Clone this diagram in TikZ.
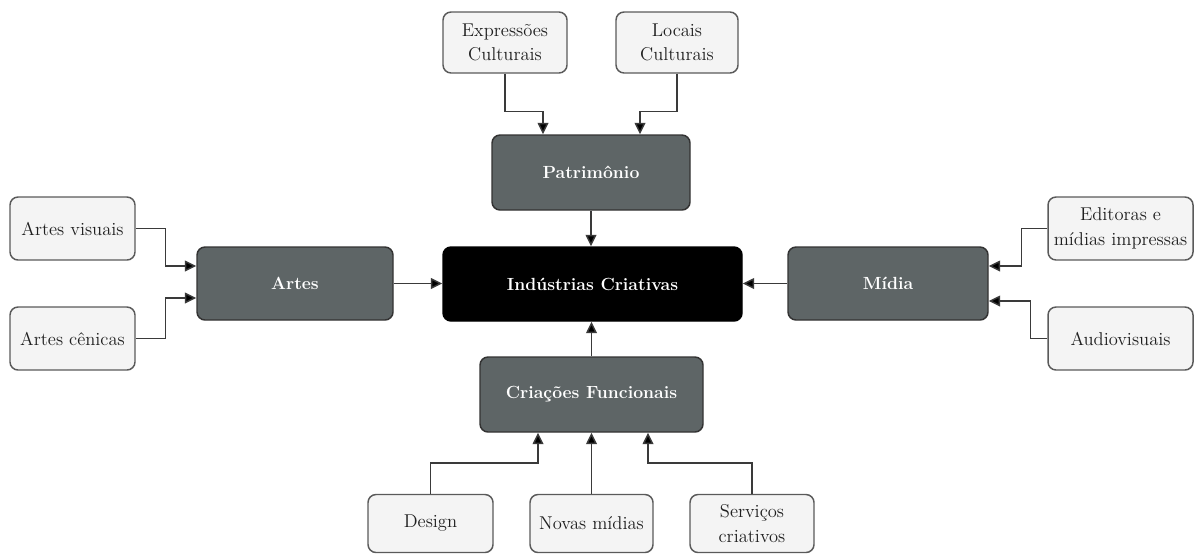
\documentclass[tikz,border=0pt]{standalone}
\usepackage{fontspec}
\usetikzlibrary{arrows.meta,calc}
\definecolor{leafbg}{HTML}{F4F4F4}
\definecolor{leafline}{HTML}{5A5A5A}
\definecolor{hubbg}{HTML}{5E6566}
\definecolor{hubline}{HTML}{333333}
\definecolor{wire}{HTML}{3A3A3A}
\tikzset{
  box/.style={rounded corners=6pt, line width=1.1pt, align=center, inner sep=0pt,
    font=\fontsize{13.9pt}{18.5pt}\selectfont},
  leaf/.style={box, draw=leafline, fill=leafbg, text=black!88},
  hub/.style={box, draw=hubline, fill=hubbg, text=white, font=\fontsize{13.2pt}{17pt}\selectfont\bfseries},
  core/.style={box, draw=black, fill=black, text=white, font=\fontsize{13.2pt}{17pt}\selectfont\bfseries},
  wh/.style={minimum width=#1*0.75pt},
  ht/.style={minimum height=#1*0.75pt},
  arr/.style={draw=wire, line width=1.1pt, -{Triangle[length=8.5pt,width=8pt,fill=black]}}
}
\begin{document}
\begin{tikzpicture}[x=0.75pt,y=-0.75pt]
\useasboundingbox (0,0) rectangle (1198,554);
% central node
\node[core, wh=299, ht=74] (ind) at (592.5,284) {Indústrias Criativas};
% category nodes
\node[hub, wh=198, ht=75] (patr) at (591,172.5) {Patrimônio};
\node[hub, wh=196, ht=73] (artes) at (295,283.5) {Artes};
\node[hub, wh=200, ht=73] (midia) at (888,283.5) {Mídia};
\node[hub, wh=223, ht=75] (criac) at (591.5,394.5) {Criações Funcionais};
% leaf nodes
\node[leaf, wh=124, ht=61] (expr) at (505,42.5) {Expressões\\Culturais};
\node[leaf, wh=122, ht=61] (locais) at (677,42.5) {Locais\\Culturais};
\node[leaf, wh=125, ht=63] (artvis) at (72.5,228.5) {Artes visuais};
\node[leaf, wh=125, ht=63] (artcen) at (72.5,338.5) {Artes cênicas};
\node[leaf, wh=145, ht=63] (edit) at (1120.5,228.5) {Editoras e\\mídias impressas};
\node[leaf, wh=145, ht=63] (audio) at (1120.5,338.5) {Audiovisuais};
\node[leaf, wh=125, ht=58] (design) at (430.5,523.5) {Design};
\node[leaf, wh=123, ht=58] (novas) at (591.5,523.5) {Novas mídias};
\node[leaf, wh=124, ht=58] (serv) at (752,523.5) {Serviços\\criativos};
% categories into the centre
\draw[arr] (patr.south) -- (patr.south |- ind.north);
\draw[arr] (criac.north) -- (criac.north |- ind.south);
\draw[arr] (artes.east) -- (artes.east -| ind.west);
\draw[arr] (midia.west) -- (midia.west -| ind.east);
% Patrimônio
\draw[arr] (expr.south) -- ++(0,37.5) -| ($(patr.north)+(-48,0)$);
\draw[arr] (locais.south) -- ++(0,37.5) -| ($(patr.north)+(49,0)$);
% Artes
\draw[arr] (artvis.east) -- ++(30,0) |- ($(artes.west)+(0,-17.5)$);
\draw[arr] (artcen.east) -- ++(30,0) |- ($(artes.west)+(0,14.5)$);
% Mídia
\draw[arr] (edit.west) -- ++(-26,0) |- ($(midia.east)+(0,-17.5)$);
\draw[arr] (audio.west) -- ++(-17,0) |- ($(midia.east)+(0,17.5)$);
% Criações Funcionais
\draw[arr] (design.north) -- ++(0,-31) -| ($(criac.south)+(-53.5,0)$);
\draw[arr] (novas.north) -- (criac.south);
\draw[arr] (serv.north) -- ++(0,-31) -| ($(criac.south)+(56.5,0)$);
\end{tikzpicture}
\end{document}
